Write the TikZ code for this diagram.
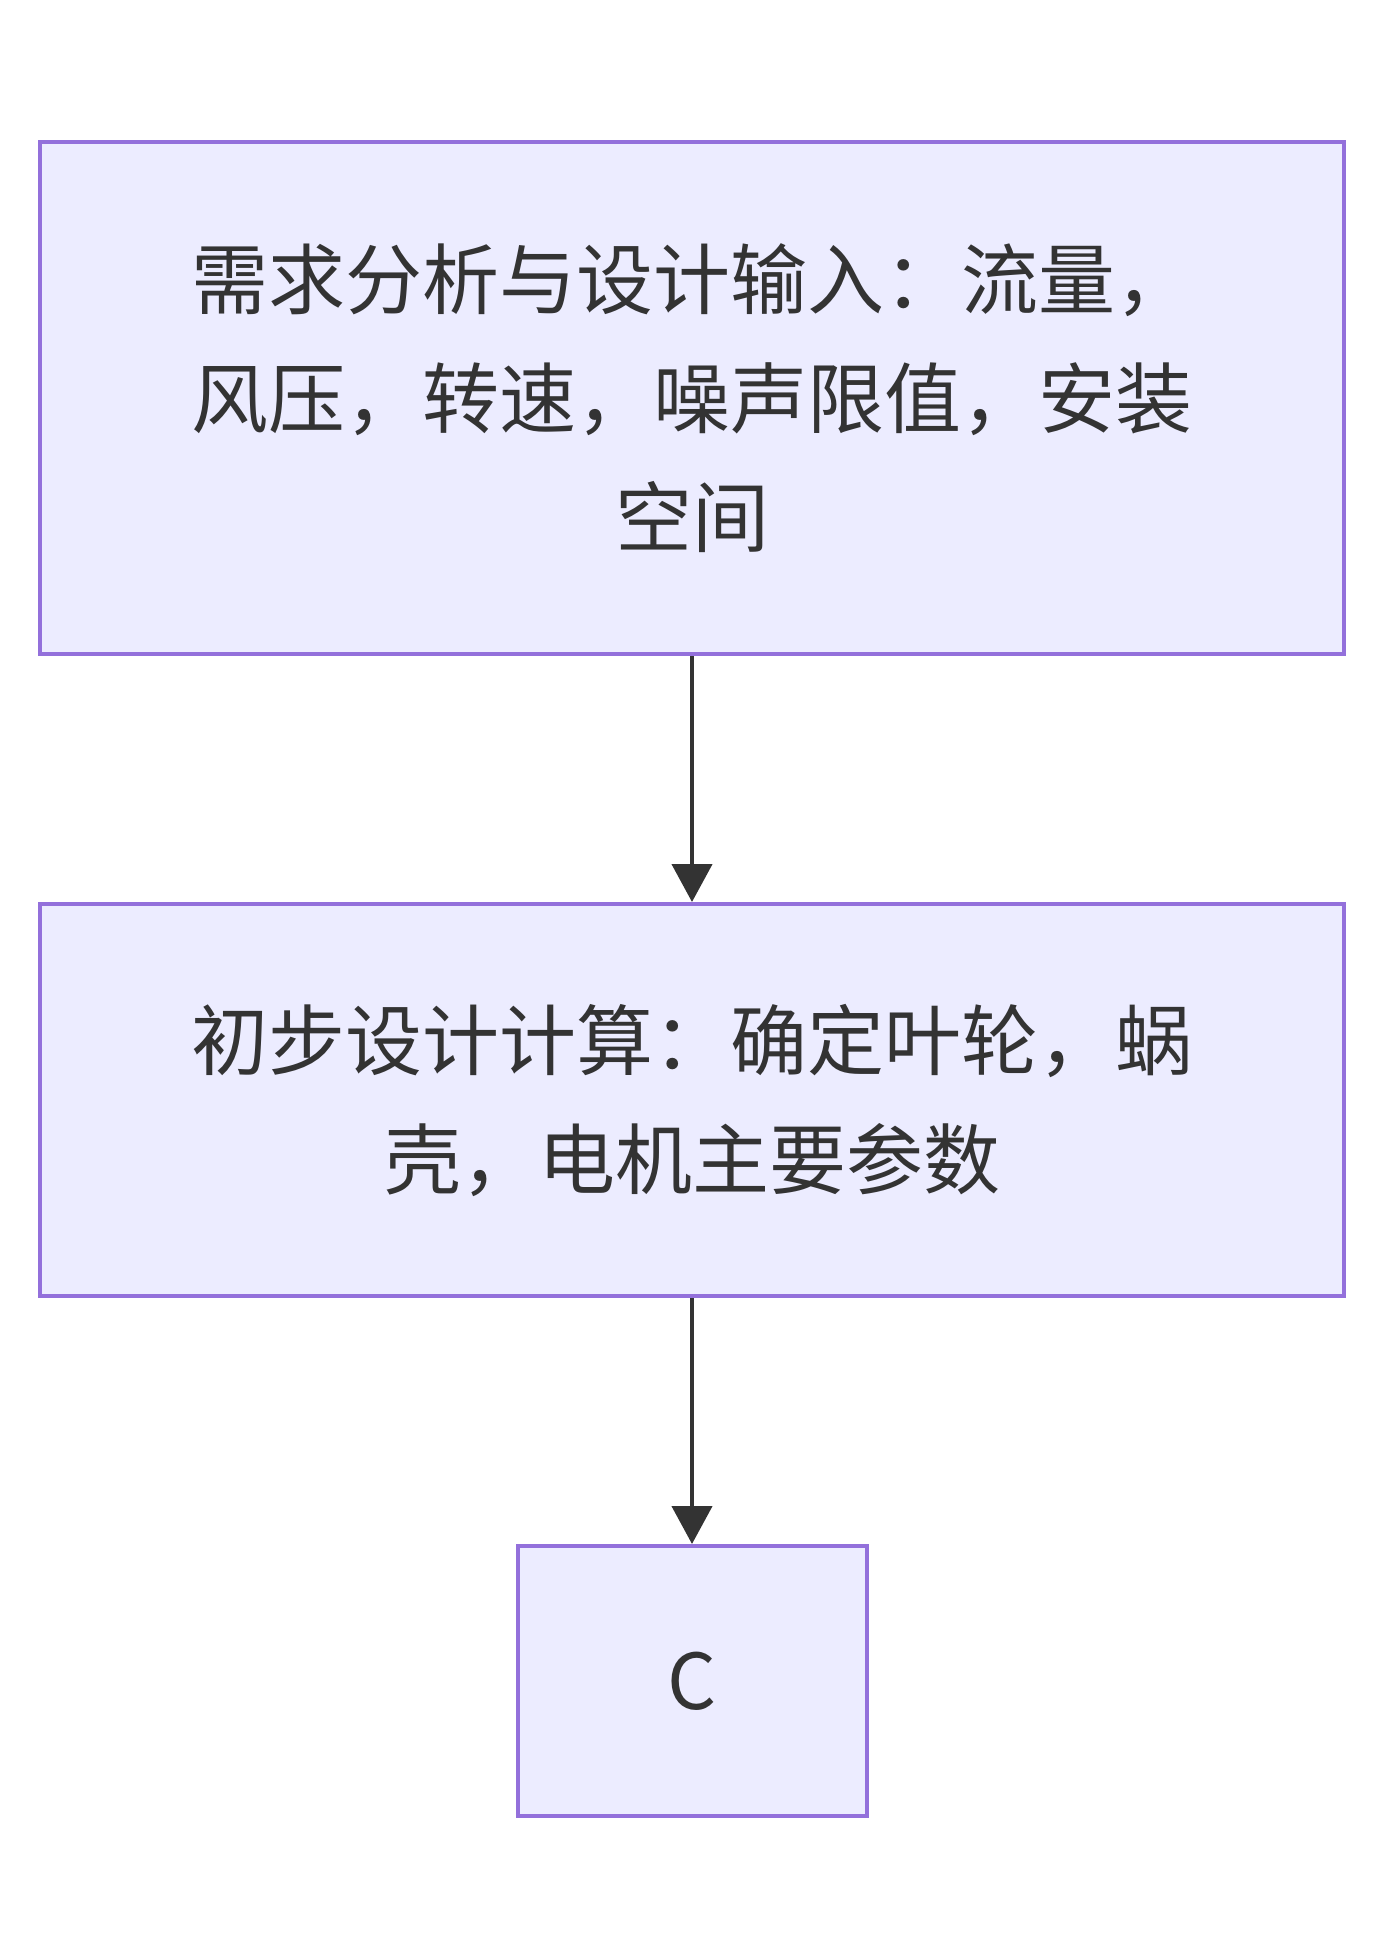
\documentclass[tikz,border=0pt]{standalone}
\usepackage{fontspec}
\setmainfont{Noto Sans CJK SC}
\usetikzlibrary{arrows.meta}
\definecolor{boxfill}{HTML}{ECECFF}
\definecolor{boxline}{HTML}{9370DB}
\definecolor{ink}{HTML}{333333}
\tikzset{
	stage/.style={draw=boxline, fill=boxfill, line width=2pt, text=ink, align=center, inner sep=0pt,
		font=\fontsize{38.5pt}{59.5pt}\selectfont},
	flow/.style={draw=ink, line width=2.2pt, -{Triangle[length=19pt, width=20pt]}}
}
\begin{document}
\begin{tikzpicture}[x=1pt, y=1pt]
	\useasboundingbox (0,0) rectangle (690,-977.5);
	\node[stage, minimum width=652pt, minimum height=256pt] at (346,-199) (req) {需求分析与设计输入：流量，\\风压，转速，噪声限值，安装\\空间};
	\node[stage, minimum width=652pt, minimum height=196pt] at (346,-550) (calc) {初步设计计算：确定叶轮，蜗\\壳，电机主要参数};
	\node[stage, minimum width=174.5pt, minimum height=135pt] at (346,-840.5) (c) {C};
	\draw[flow] (req) -- (calc);
	\draw[flow] (calc) -- (c);
\end{tikzpicture}
\end{document}
